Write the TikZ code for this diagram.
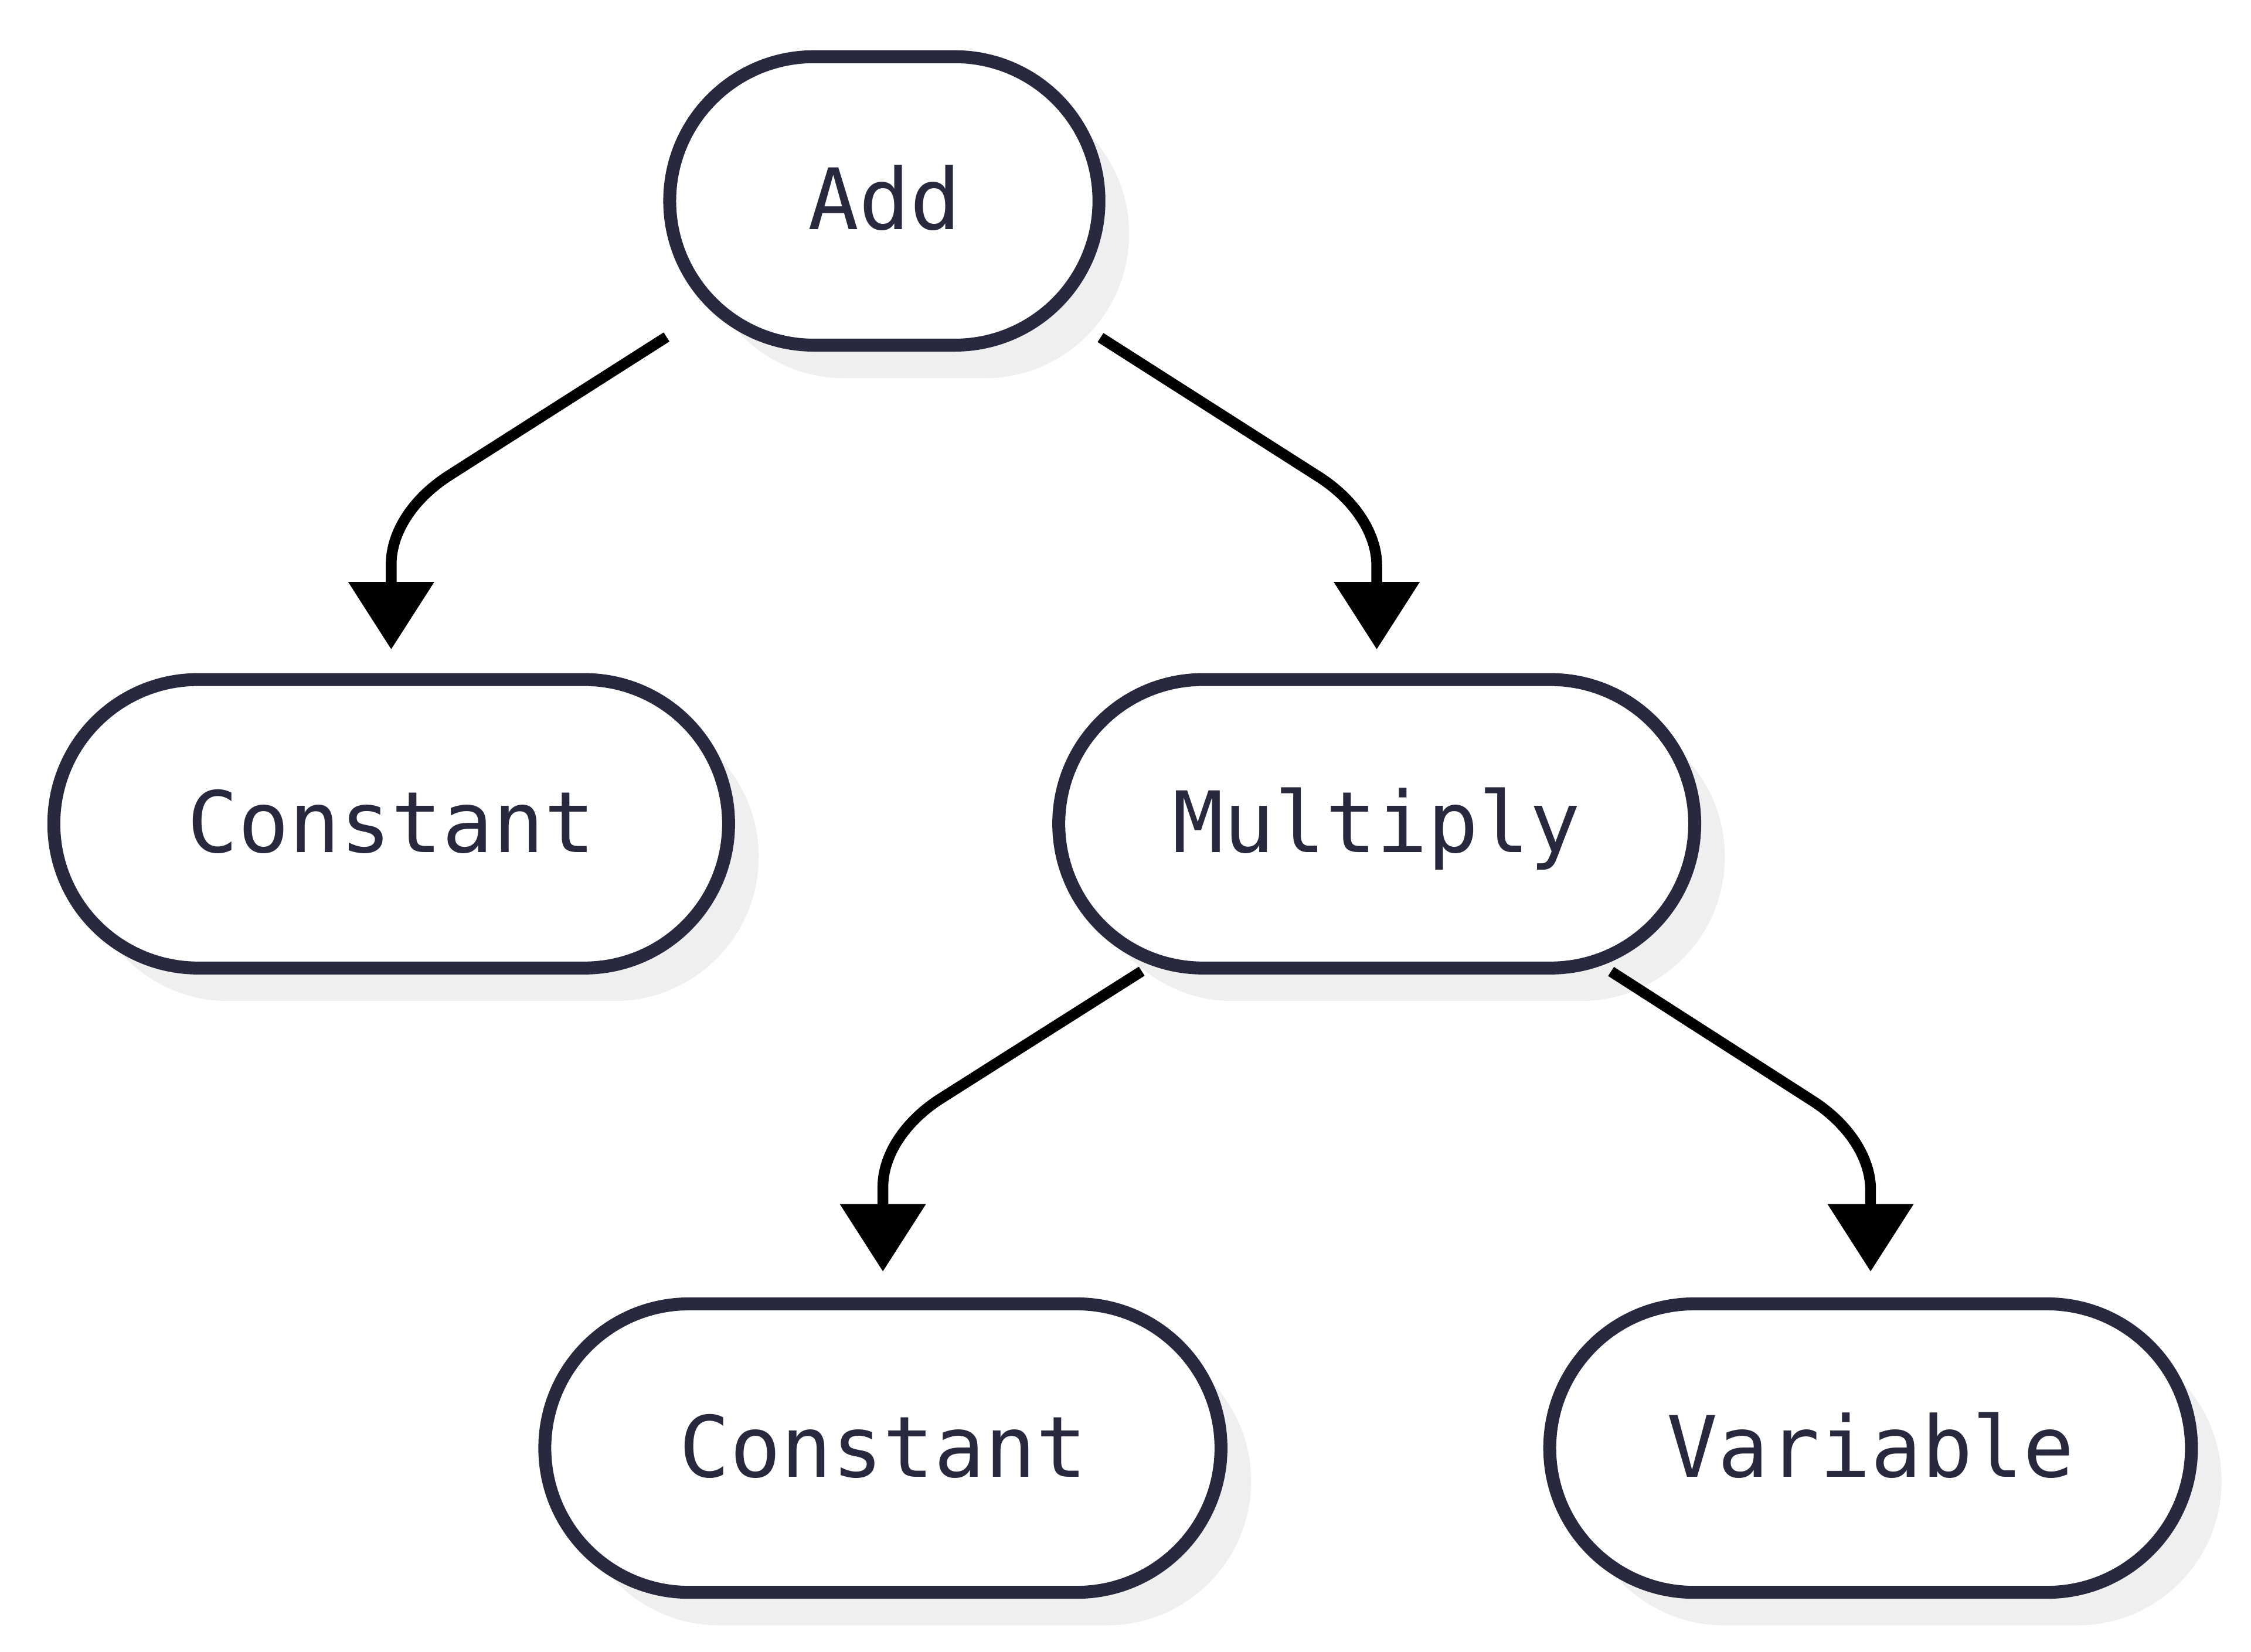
\documentclass[tikz,border=0pt]{standalone}
\usepackage{fontspec}
\setmonofont{DejaVu Sans Mono}
\usetikzlibrary{shapes.misc,shadows,arrows.meta,calc}
\definecolor{ink}{RGB}{40,40,62}
\definecolor{shade}{RGB}{239,239,239}
\begin{document}
\begin{tikzpicture}[x=1pt,y=-1pt,
  term/.style={rounded rectangle, draw=ink, line width=9pt, fill=white,
    minimum height=201pt, inner sep=0pt, text=ink,
    text height=40pt, text depth=0pt,
    font=\ttfamily\fontsize{59}{60}\selectfont,
    drop shadow={shadow xshift=21pt, shadow yshift=-23pt, fill=shade, opacity=1}},
  edge/.style={draw=black, line width=7.5pt,
    -{Triangle[length=47pt,width=58pt]}}]
\useasboundingbox (0,0) rectangle (1568,1151);

% expression tree nodes
\node[term, minimum width=299pt] (add)  at (616,140)   {Add};
\node[term, minimum width=470pt] (c1)   at (272.5,574) {Constant};
\node[term, minimum width=443pt] (mul)  at (959,574)   {Multiply};
\node[term, minimum width=471pt] (c2)   at (615,1009)  {Constant};
\node[term, minimum width=447pt] (var)  at (1303,1009) {Variable};

% connector geometry: start below the parent, bend point above the child, tip
\coordinate (s1) at ($(add.center)+(-151.7,94.8)$);
\coordinate (k1) at ($(c1.center)+(0,-217)$);
\coordinate (t1) at ($(c1.center)+(0,-121.5)$);
\coordinate (s2) at ($(add.center)+(150.6,95.2)$);
\coordinate (k2) at ($(mul.center)+(0,-216)$);
\coordinate (t2) at ($(mul.center)+(0,-121.5)$);
\coordinate (s3) at ($(mul.center)+(-163.7,102.7)$);
\coordinate (k3) at ($(c2.center)+(0,-218)$);
\coordinate (t3) at ($(c2.center)+(0,-123)$);
\coordinate (s4) at ($(mul.center)+(163.2,102.9)$);
\coordinate (k4) at ($(var.center)+(0,-216)$);
\coordinate (t4) at ($(var.center)+(0,-123)$);

% connectors: diagonal leg, smooth bend, vertical drop into the child
\foreach \i in {1,2,3,4}{
  \draw[edge] (s\i) -- ($(k\i)!48pt!(s\i)$)
    .. controls ($(k\i)!18pt!(s\i)$) and ($(k\i)!14pt!(t\i)$) .. ($(k\i)!36pt!(t\i)$)
    -- (t\i);
}
\end{tikzpicture}
\end{document}
